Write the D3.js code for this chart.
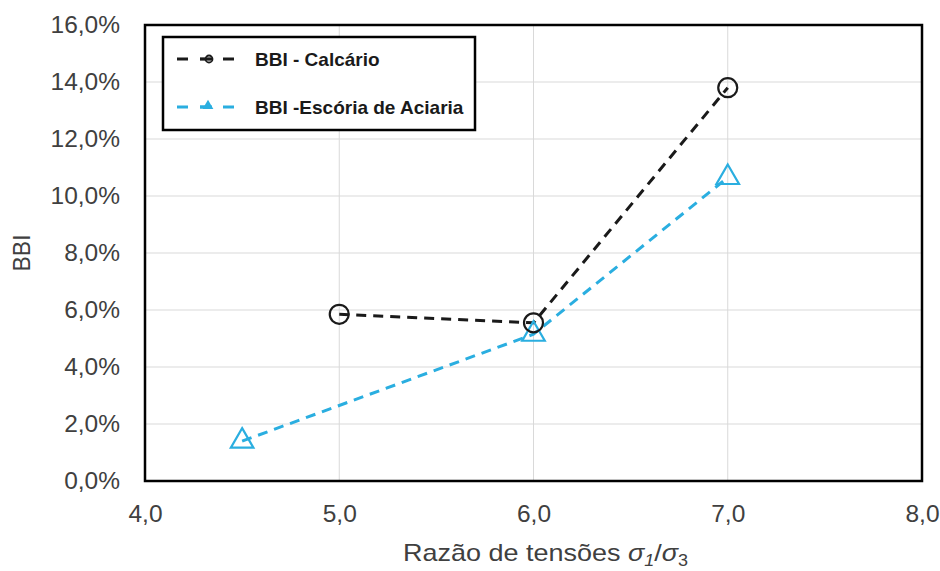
<!DOCTYPE html>
<html>
<head>
<meta charset="utf-8">
<script src="https://cdn.jsdelivr.net/npm/d3@7"></script>
<style>
  body { margin: 0; background: #fff; }
  svg { font-family: "Liberation Sans", Arial, sans-serif; }
</style>
</head>
<body>
<div id="graph"></div>
<script>
const calcX = [5.0, 6.0, 7.0];
const calcY = [0.0585, 0.0555, 0.138];
const escX = [4.5, 6.0, 7.0];
const escY = [0.014, 0.0515, 0.1065];
const xTicks = [4, 5, 6, 7, 8];
const yTicks = [0, 0.02, 0.04, 0.06, 0.08, 0.10, 0.12, 0.14, 0.16];
const seriesNames = ['BBI - Calcário', 'BBI -Escória de Aciaria'];

const w = 940, h = 571;
const m = {left: 145, right: 18, top: 25, bottom: 90};
const blue = '#2aaee0';

const xScale = d3.scaleLinear().domain([4, 8]).range([m.left, w - m.right]);
const yScale = d3.scaleLinear().domain([0, 0.16]).range([h - m.bottom, m.top]);

const svg = d3.select('#graph').append('svg').attr('width', w).attr('height', h);

// grid
svg.append('g').selectAll('line').data(yTicks).enter().append('line')
  .attr('x1', m.left).attr('x2', w - m.right)
  .attr('y1', d => yScale(d)).attr('y2', d => yScale(d))
  .attr('stroke', '#d9d9d9').attr('stroke-width', 1);
svg.append('g').selectAll('line').data(xTicks).enter().append('line')
  .attr('y1', m.top).attr('y2', h - m.bottom)
  .attr('x1', d => xScale(d)).attr('x2', d => xScale(d))
  .attr('stroke', '#d9d9d9').attr('stroke-width', 1);

// axes (labels only)
const fmtY = d => (d * 100).toFixed(1).replace('.', ',') + '%';
const fmtX = d => d.toFixed(1).replace('.', ',');
const yAxis = svg.append('g').attr('transform', 'translate(' + m.left + ',0)')
  .call(d3.axisLeft(yScale).tickValues(yTicks).tickFormat(fmtY).tickSize(0).tickPadding(25));
const xAxis = svg.append('g').attr('transform', 'translate(0,' + (h - m.bottom) + ')')
  .call(d3.axisBottom(xScale).tickValues(xTicks).tickFormat(fmtX).tickSize(0).tickPadding(24));
[xAxis, yAxis].forEach(a => {
  a.select('.domain').remove();
  a.selectAll('text').attr('fill', '#404040').style('font-size', '24.5px');
});

// frame
svg.append('rect').attr('x', m.left).attr('y', m.top)
  .attr('width', w - m.right - m.left).attr('height', h - m.bottom - m.top)
  .attr('fill', 'none').attr('stroke', '#000').attr('stroke-width', 2.5);

const line = d3.line().x(d => xScale(d[0])).y(d => yScale(d[1]));
const calc = calcX.map((x, i) => [x, calcY[i]]);
const esc = escX.map((x, i) => [x, escY[i]]);

svg.append('path').datum(esc).attr('d', line).attr('fill', 'none')
  .attr('stroke', blue).attr('stroke-width', 3).attr('stroke-dasharray', '10,7');
svg.append('path').datum(calc).attr('d', line).attr('fill', 'none')
  .attr('stroke', '#1a1a1a').attr('stroke-width', 3).attr('stroke-dasharray', '10,7');

const tri = d3.symbol().type(d3.symbolTriangle).size(220);
svg.selectAll('path.tri').data(esc).enter().append('path')
  .attr('transform', d => 'translate(' + xScale(d[0]) + ',' + yScale(d[1]) + ')')
  .attr('d', tri).attr('fill', 'none').attr('stroke', blue).attr('stroke-width', 2.2);
svg.selectAll('circle.c').data(calc).enter().append('circle')
  .attr('cx', d => xScale(d[0])).attr('cy', d => yScale(d[1])).attr('r', 9.5)
  .attr('fill', 'none').attr('stroke', '#1a1a1a').attr('stroke-width', 2.2);

// legend
const lg = svg.append('g');
lg.append('rect').attr('x', 163).attr('y', 37).attr('width', 312).attr('height', 93)
  .attr('fill', '#fff').attr('stroke', '#000').attr('stroke-width', 2.5);
[['#1a1a1a', 'circle'], [blue, 'tri']].forEach((s, i) => {
  const y = 59 + i * 48;
  lg.append('line').attr('x1', 177).attr('x2', 238).attr('y1', y).attr('y2', y)
    .attr('stroke', s[0]).attr('stroke-width', 3).attr('stroke-dasharray', '11,12');
  if (s[1] === 'circle') {
    lg.append('line').attr('x1', 200).attr('x2', 212).attr('y1', y).attr('y2', y)
      .attr('stroke', s[0]).attr('stroke-width', 2.5);
    lg.append('circle').attr('cx', 209).attr('cy', y).attr('r', 3.5)
      .attr('fill', 'none').attr('stroke', s[0]).attr('stroke-width', 1.8);
  } else {
    lg.append('line').attr('x1', 200).attr('x2', 212).attr('y1', y).attr('y2', y)
      .attr('stroke', s[0]).attr('stroke-width', 3);
    lg.append('path').attr('transform', 'translate(208,' + (y - 1) + ')')
      .attr('d', d3.symbol().type(d3.symbolTriangle).size(50)).attr('fill', s[0]);
  }
  lg.append('text').attr('x', 255).attr('y', y + 7).text(seriesNames[i])
    .style('font-size', '19px').style('font-weight', 'bold').attr('fill', '#1a1a1a');
});

// axis titles
svg.append('text').attr('transform', 'translate(30,' + (m.top + (h - m.bottom - m.top) / 2) + ') rotate(-90)')
  .attr('text-anchor', 'middle').style('font-size', '23px').attr('fill', '#404040').text('BBI');
const xt = svg.append('text').attr('x', 403).attr('y', 561)
  .attr('textLength', 285).attr('lengthAdjust', 'spacingAndGlyphs')
  .style('font-size', '24px').attr('fill', '#404040');
xt.append('tspan').text('Razão de tensões ');
xt.append('tspan').style('font-style', 'italic').text('σ');
xt.append('tspan').style('font-style', 'italic').style('font-size', '16px').attr('dy', 5).text('1');
xt.append('tspan').attr('dy', -5).text('/');
xt.append('tspan').style('font-style', 'italic').text('σ');
xt.append('tspan').style('font-size', '16px').attr('dy', 5).text('3');
</script>
</body>
</html>
